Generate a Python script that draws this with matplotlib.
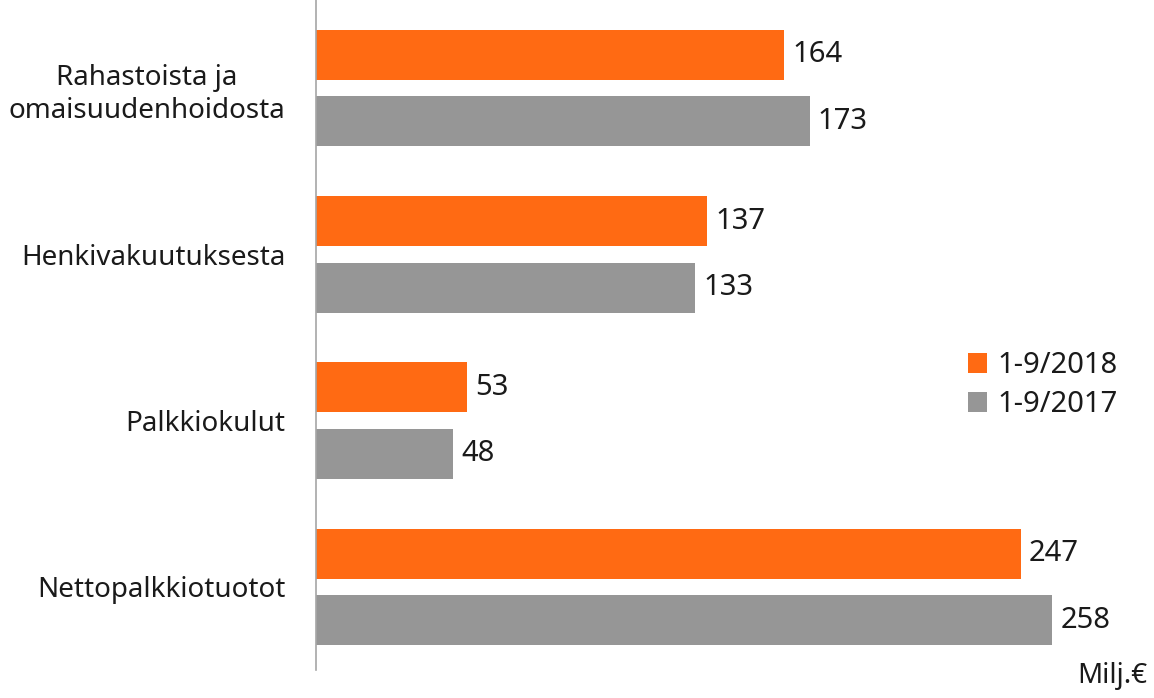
import numpy as np
import matplotlib.pyplot as plt

plt.rcParams['font.family'] = ['Noto Sans', 'DejaVu Sans']

categories = ['Rahastoista ja\nomaisuudenhoidosta', 'Henkivakuutuksesta',
              'Palkkiokulut', 'Nettopalkkiotuotot']
v2018 = [164, 137, 53, 247]
v2017 = [173, 133, 48, 258]
labels = ['1-9/2018', '1-9/2017']

orange = '#ff6a13'
gray = '#969696'

fig = plt.figure(figsize=(11.54, 6.98), dpi=100)
ax = fig.add_axes([316 / 1154, 28 / 698, 824 / 1154, 670 / 698])

y = np.arange(len(categories))
h = 0.30
b1 = ax.barh(y - 0.2, v2018, h, color=orange, label=labels[0])
b2 = ax.barh(y + 0.2, v2017, h, color=gray, label=labels[1])

for bars in (b1, b2):
    for rect in bars:
        w = rect.get_width()
        ax.annotate(f'{w:.0f}', (w, rect.get_y() + rect.get_height() / 2),
                    xytext=(6, 0), textcoords='offset points',
                    ha='left', va='center', fontsize=21, color='#1a1a1a')

ax.set_xlim(0, 288.8)
ax.set_ylim(3.5, -0.53)
ax.set_xticks([])
ax.set_yticks(y)
ax.set_yticklabels(categories, fontsize=20, color='#1a1a1a',
                   multialignment='center', linespacing=1.25)
ax.tick_params(axis='y', length=0, pad=22)

for s in ('top', 'right', 'bottom'):
    ax.spines[s].set_visible(False)
ax.spines['left'].set_color('#a6a6a6')
ax.spines['left'].set_linewidth(1.2)

leg = ax.legend(loc='upper left', bbox_to_anchor=(0.76, 0.515), frameon=False,
                fontsize=21, handlelength=0.65, handleheight=0.65,
                handletextpad=0.35, labelspacing=0.35, labelcolor='#1a1a1a')

fig.text(1147 / 1154, 8 / 698, 'Milj.€', ha='right', va='bottom',
         fontsize=20, color='#1a1a1a')

fig.savefig('out.png', dpi=100)
